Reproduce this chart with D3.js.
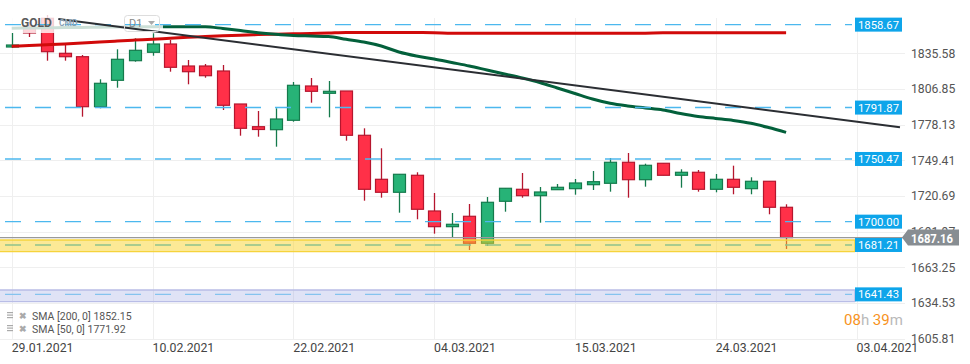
<!DOCTYPE html>
<html lang="en">
<head>
  <meta charset="utf-8">
  <title>GOLD D1</title>
  <script src="https://d3js.org/d3.v7.min.js"></script>
  <style>
    body {
      margin: 0;
      background: #fff;
      font-family: Roboto, Arial, sans-serif;
    }
    svg {
      display: block;
    }
  </style>
</head>
<body>
  <svg width="970" height="364"></svg>

  <script>
  // daily candles (index 0 = 29.01.2021)
  const opens  = [1840.65, 1857.56, 1863.76, 1835.58, 1832.84, 1792.58, 1813.84, 1829.62, 1836.39, 1843.07,
                  1825.35, 1825.35, 1821.33, 1794.75, 1776.47, 1774.06, 1781.63, 1809.25, 1803.37, 1805.22,
                  1769.55, 1734.11, 1723.65, 1737.34, 1708.59, 1695.95, 1704.32, 1682.58, 1716.40, 1726.06,
                  1720.91, 1725.74, 1726.55, 1729.77, 1730.89, 1747.81, 1733.79, 1747.00, 1737.34, 1739.76,
                  1726.06, 1734.11, 1726.55, 1732.51, 1711.57];
  const highs  = [1851.93, 1860.79, 1866.42, 1843.63, 1834.21, 1814.64, 1838.80, 1847.66, 1851.69, 1846.29,
                  1830.18, 1826.96, 1826.16, 1794.75, 1789.12, 1791.29, 1812.47, 1815.69, 1813.27, 1805.22,
                  1775.18, 1759.08, 1738.14, 1739.76, 1723.08, 1706.98, 1714.23, 1719.86, 1726.87, 1739.19,
                  1727.91, 1730.33, 1734.36, 1740.80, 1751.27, 1755.29, 1746.68, 1747.00, 1742.17, 1741.60,
                  1738.38, 1745.07, 1735.73, 1732.51, 1713.98];
  const lows   = [1839.85, 1848.71, 1829.62, 1829.62, 1784.53, 1791.29, 1807.88, 1828.82, 1833.65, 1820.76,
                  1810.62, 1815.93, 1789.92, 1769.22, 1768.42, 1760.37, 1780.50, 1795.80, 1784.04, 1765.20,
                  1716.88, 1719.30, 1707.22, 1701.91, 1690.31, 1687.40, 1677.18, 1680.40, 1708.02, 1719.30,
                  1699.16, 1725.74, 1721.71, 1725.50, 1724.13, 1719.30, 1728.16, 1737.34, 1727.35, 1724.13,
                  1723.65, 1722.04, 1722.04, 1705.93, 1678.00];
  const closes = [1842.26, 1851.93, 1836.87, 1832.84, 1792.58, 1811.42, 1830.75, 1838.00, 1843.07, 1824.31,
                  1820.76, 1817.54, 1793.71, 1775.18, 1774.22, 1782.67, 1809.81, 1804.98, 1804.98, 1769.55,
                  1726.06, 1723.65, 1738.14, 1709.96, 1695.95, 1697.88, 1682.58, 1715.59, 1726.87, 1720.91,
                  1723.89, 1727.67, 1731.14, 1732.18, 1747.81, 1733.79, 1745.39, 1737.34, 1739.76, 1726.06,
                  1734.11, 1727.67, 1732.51, 1711.57, 1687.16];

  // moving averages
  const sma200 = [1841.22, 1841.8, 1842.42, 1843.1, 1843.87, 1844.7, 1845.48, 1846.2, 1846.85, 1847.7,
                  1848.46, 1849.1, 1849.67, 1850.2, 1850.64, 1851.0, 1851.28, 1851.6, 1851.93, 1852.33,
                  1852.33, 1852.33, 1852.33, 1852.33, 1852.2, 1851.69, 1851.69, 1851.69, 1851.69, 1851.69,
                  1851.69, 1851.69, 1851.69, 1851.69, 1851.69, 1851.69, 1851.8, 1852.09, 1852.15, 1852.15,
                  1852.15, 1852.15, 1852.15, 1852.15, 1852.15];
  const sma50  = [1855.71, 1855.95, 1856.11, 1856.28, 1856.44, 1856.60, 1856.76, 1856.92, 1857.00, 1857.00,
                  1857.00, 1856.92, 1855.55, 1853.94, 1852.17, 1850.88, 1849.91, 1849.51, 1849.11, 1846.85,
                  1844.68, 1841.46, 1836.63, 1833.41, 1830.99, 1828.17, 1825.35, 1822.13, 1818.91, 1815.69,
                  1812.07, 1807.64, 1803.21, 1798.78, 1795.32, 1793.14, 1791.53, 1789.92, 1787.10, 1784.69,
                  1783.08, 1781.46, 1779.21, 1775.83, 1771.92];

  // trend line anchors [index, price]
  const trendFrom = [2.65, 1863.2];
  const trendTo = [50.47, 1775.99];

  // horizontal levels
  const levels = [1858.67, 1791.87, 1750.47, 1700.00];
  const yellowZone = [1685.2, 1675.8, 1681.21];
  const purpleZone = [1644.97, 1635.56, 1641.43];
  const lastPrice = 1687.16;

  const yTicks = [1835.58, 1806.85, 1778.13, 1749.41, 1720.69, 1691.97, 1663.25, 1634.53, 1605.81];
  const xTickIdx = [0, 8, 16, 24, 32, 40, 48];
  const xTickLabels = ["29.01.2021", "10.02.2021", "22.02.2021", "04.03.2021", "15.03.2021", "24.03.2021", "03.04.2021"];

  const legendRows = ["SMA [200,  0] 1852.15", "SMA [50,  0] 1771.92"];

  const svg = d3.select("svg");
  const x = d3.scaleLinear().domain([0, 48]).range([11.7, 856.5]);
  const y = d3.scaleLinear().domain([1605.81, 1835.58]).range([338.6, 53.3]);
  const px = v => Math.round(v) + 0.5;

  // grid
  svg.selectAll(".hgrid").data(yTicks).enter().append("line")
    .attr("x1", 0).attr("x2", 905)
    .attr("y1", d => px(y(d))).attr("y2", d => px(y(d)))
    .attr("stroke", "#efefef").attr("stroke-width", 1);
  svg.selectAll(".vgrid").data(xTickIdx).enter().append("line")
    .attr("x1", d => px(x(d))).attr("x2", d => px(x(d)))
    .attr("y1", 18).attr("y2", 339)
    .attr("stroke", "#efefef").attr("stroke-width", 1);

  // y labels
  svg.selectAll(".ylab").data(yTicks).enter().append("text")
    .attr("x", 911).attr("y", d => y(d) + 4.5)
    .attr("font-size", 12.2).attr("fill", "#555")
    .text(d => d.toFixed(2));

  // x labels
  svg.selectAll(".xlab").data(xTickIdx).enter().append("text")
    .attr("x", d => x(d)).attr("y", 351.5)
    .attr("font-size", 12.3).attr("fill", "#444")
    .text((d, i) => xTickLabels[i]);

  // candles
  const data = opens.map((o, i) => ({ i, o, h: highs[i], l: lows[i], c: closes[i] }));
  const up = d => d.c >= d.o;
  const g = svg.append("g");
  g.selectAll(".wick").data(data).enter().append("line")
    .attr("x1", d => px(x(d.i))).attr("x2", d => px(x(d.i)))
    .attr("y1", d => y(d.h)).attr("y2", d => y(d.l))
    .attr("stroke", d => up(d) ? "#147a4c" : "#b5162e").attr("stroke-width", 1.3);
  g.selectAll(".body").data(data).enter().append("rect")
    .attr("x", d => px(x(d.i)) - 6)
    .attr("y", d => y(Math.max(d.o, d.c)))
    .attr("width", 12)
    .attr("height", d => Math.max(2, Math.abs(y(d.o) - y(d.c))))
    .attr("fill", d => up(d) ? "#27b377" : "#ff3048")
    .attr("stroke", d => up(d) ? "#147a4c" : "#b5162e").attr("stroke-width", 1.2);

  // moving averages
  const line = d3.line().x((d, i) => x(i)).y(d => y(d)).curve(d3.curveMonotoneX);
  svg.append("path").datum(sma200).attr("d", line)
    .attr("fill", "none").attr("stroke", "#d10a0a").attr("stroke-width", 3);
  svg.append("path").datum(sma50).attr("d", line)
    .attr("fill", "none").attr("stroke", "#03603b").attr("stroke-width", 3);

  // header veil
  svg.append("rect").attr("x", 3).attr("y", 12).attr("width", 160).attr("height", 21)
    .attr("fill", "#fff").attr("opacity", 0.8);

  // zones
  function zone(z, fill, edge, dash) {
    const top = y(z[0]), bot = y(z[1]);
    svg.append("rect").attr("x", 0).attr("y", top).attr("width", 855).attr("height", bot - top)
      .attr("fill", fill).attr("stroke", "none");
    svg.append("line").attr("x1", 0).attr("x2", 855).attr("y1", top).attr("y2", top)
      .attr("stroke", edge).attr("stroke-width", 1.3);
    svg.append("line").attr("x1", 0).attr("x2", 855).attr("y1", bot).attr("y2", bot)
      .attr("stroke", edge).attr("stroke-width", 1.3);
    svg.append("line").attr("x1", 855).attr("x2", 855).attr("y1", top).attr("y2", bot)
      .attr("stroke", edge).attr("stroke-width", 1.5);
    svg.append("line").attr("x1", 5).attr("x2", 852).attr("y1", y(z[2])).attr("y2", y(z[2]))
      .attr("stroke", dash).attr("stroke-width", 1.4).attr("stroke-dasharray", "16,14");
  }
  zone(yellowZone, "rgba(250,212,45,0.5)", "#f6d33c", "#8fc28c");
  zone(purpleZone, "rgba(140,150,220,0.27)", "#b9bde6", "#85c3ee");

  // current price line
  svg.append("line").attr("x1", 0).attr("x2", 903)
    .attr("y1", y(lastPrice)).attr("y2", y(lastPrice))
    .attr("stroke", "#9a9a9a").attr("stroke-width", 1.2);

  // level lines
  svg.selectAll(".lvl").data(levels).enter().append("line")
    .attr("x1", 5).attr("x2", 852)
    .attr("y1", d => y(d)).attr("y2", d => y(d))
    .attr("stroke", "#4cb8ee").attr("stroke-width", 1.4).attr("stroke-dasharray", "16,14");

  // trend line
  svg.append("line")
    .attr("x1", x(trendFrom[0])).attr("y1", y(trendFrom[1]))
    .attr("x2", x(trendTo[0])).attr("y2", y(trendTo[1]))
    .attr("stroke", "#2b2e33").attr("stroke-width", 2);

  // level labels
  const allLabels = levels.concat([yellowZone[2], purpleZone[2]]);
  const lab = svg.selectAll(".lvlab").data(allLabels).enter().append("g")
    .attr("transform", d => `translate(855,${y(d) - 7})`);
  lab.append("rect").attr("width", 47).attr("height", 14).attr("fill", "#0ea5ea");
  lab.append("text").attr("x", 23.5).attr("y", 11).attr("font-size", 11.5)
    .attr("text-anchor", "middle").attr("textLength", 41).attr("lengthAdjust", "spacingAndGlyphs")
    .attr("fill", "#fff").text(d => d.toFixed(2));

  // last price tag
  const ly = y(lastPrice);
  svg.append("path")
    .attr("d", `M902,${ly} L908,${ly - 8} L959,${ly - 8} L959,${ly + 8} L908,${ly + 8} Z`)
    .attr("fill", "#878d92");
  svg.append("text").attr("x", 911).attr("y", ly + 5).attr("font-size", 13)
    .attr("textLength", 42).attr("lengthAdjust", "spacingAndGlyphs")
    .attr("font-weight", "bold").attr("fill", "#fff").text(lastPrice.toFixed(2));

  // header
  svg.append("text").attr("x", 21).attr("y", 27).attr("font-size", 12)
    .attr("font-weight", "bold").attr("fill", "#5a5a5a").text("GOLD");
  svg.append("text").attr("x", 59).attr("y", 26).attr("font-size", 8.5)
    .attr("font-weight", "bold").attr("fill", "#8aa2b5").text("CMD");
  svg.append("rect").attr("x", 124.5).attr("y", 15.5).attr("width", 35).attr("height", 16)
    .attr("rx", 3).attr("fill", "none").attr("stroke", "#ddd");
  svg.append("text").attr("x", 129).attr("y", 27).attr("font-size", 11).attr("fill", "#888").text("D1");
  svg.append("path").attr("d", "M148,21 L155,21 L151.5,25 Z").attr("fill", "#aaa");

  // countdown
  const cd = svg.append("text").attr("x", 844).attr("y", 325).attr("font-size", 15);
  cd.append("tspan").attr("fill", "#f7931e").text("08");
  cd.append("tspan").attr("fill", "#b9b9b9").text("h ");
  cd.append("tspan").attr("fill", "#f7931e").text("39");
  cd.append("tspan").attr("fill", "#b9b9b9").text("m");

  // legend
  const lg = svg.selectAll(".leg").data(legendRows).enter().append("g")
    .attr("transform", (d, i) => `translate(0,${316 + i * 13})`);
  lg.append("rect").attr("x", 7).attr("y", -4).attr("width", 6).attr("height", 1.2).attr("fill", "#aaa");
  lg.append("rect").attr("x", 7).attr("y", -1.5).attr("width", 6).attr("height", 1.2).attr("fill", "#aaa");
  lg.append("rect").attr("x", 7).attr("y", 1).attr("width", 6).attr("height", 1.2).attr("fill", "#aaa");
  lg.append("text").attr("x", 19).attr("y", 3).attr("font-size", 9).attr("font-weight", "bold")
    .attr("fill", "#aaa").text("✖");
  lg.append("text").attr("x", 32).attr("y", 4).attr("font-size", 10.5).attr("fill", "#555").text(d => d);
  </script>
</body>
</html>
